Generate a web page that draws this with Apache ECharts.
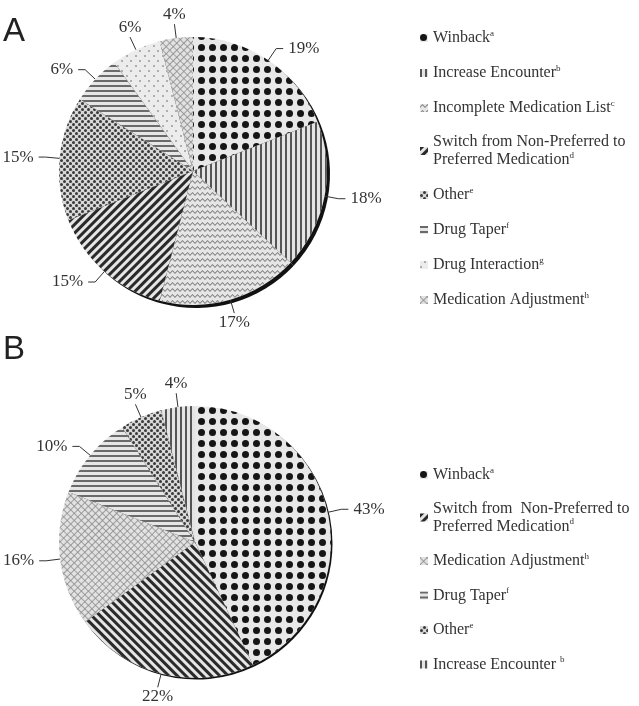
<!DOCTYPE html>
<html>
<head>
<meta charset="utf-8">
<script src="https://cdn.jsdelivr.net/npm/echarts@6/dist/echarts.min.js"></script>
<style>html,body{margin:0;padding:0;background:#fff}#c{width:639px;height:706px}</style>
</head>
<body>
<div id="c"></div>
<script>
// ---- data ----
const categoriesA = ['Winback', 'Increase Encounter', 'Incomplete Medication List',
  'Switch from Non-Preferred to Preferred Medication', 'Other', 'Drug Taper',
  'Drug Interaction', 'Medication Adjustment'];
const valuesA = [19, 18, 17, 15, 15, 6, 6, 4];

const categoriesB = ['Winback', 'Switch from Non-Preferred to Preferred Medication',
  'Medication Adjustment', 'Drug Taper', 'Other', 'Increase Encounter'];
const valuesB = [43, 22, 16, 10, 5, 4];

const footnotes = {
  'Winback': 'a', 'Increase Encounter': 'b', 'Incomplete Medication List': 'c',
  'Switch from Non-Preferred to Preferred Medication': 'd', 'Other': 'e',
  'Drug Taper': 'f', 'Drug Interaction': 'g', 'Medication Adjustment': 'h'
};
const legendTextA = {
  'Switch from Non-Preferred to Preferred Medication': ['Switch from Non-Preferred to', 'Preferred Medication']
};
const legendTextB = {
  'Switch from Non-Preferred to Preferred Medication': ['Switch from  Non-Preferred to', 'Preferred Medication'],
  'Increase Encounter': ['Increase Encounter ']
};

// ---- styles (patterns) ----
const Q = Math.PI / 4;
function patterns(dot, gap, diagRot) {
  return {
    'Winback': { bg: '#e8e8e8', decal: { color: '#151515', symbol: 'circle', symbolSize: 1,
      dashArrayX: [dot, gap], dashArrayY: [dot, gap] } },
    'Increase Encounter': { bg: '#e4e4e4', decal: { color: '#555', symbol: 'rect', symbolSize: 1,
      dashArrayX: [1.8, 2.2], dashArrayY: [4, 0] } },
    'Incomplete Medication List': { bg: '#e6e6e6', decal: { color: '#777', symbolSize: 1, symbolKeepAspect: false,
      symbol: 'path://M0,4 L5,0 L10,4 L10,6 L5,2 L0,6Z', dashArrayX: [5, 0], dashArrayY: [3.2, 1.3] } },
    'Switch from Non-Preferred to Preferred Medication': { bg: '#e6e6e6', decal: { color: '#2a2a2a', symbol: 'rect', symbolSize: 1,
      dashArrayX: [2.2, 2.4], dashArrayY: [4, 0], rotation: diagRot } },
    'Other': { bg: '#d8d8d8', decal: { color: '#3a3a3a', symbol: 'circle', symbolSize: 1,
      dashArrayX: [[2.2, 2.2], [0, 2.2, 2.2, 0]], dashArrayY: [2.2, 0] } },
    'Drug Taper': { bg: '#e6e6e6', decal: { color: '#6a6a6a', symbol: 'rect', symbolSize: 1,
      dashArrayX: [4, 0], dashArrayY: [2, 2.6] } },
    'Drug Interaction': { bg: '#ececec', decal: { color: '#9a9a9a', symbol: 'circle', symbolSize: 1,
      dashArrayX: [[1.6, 6.4], [0, 4, 1.6, 2.4]], dashArrayY: [1.6, 2.4] } },
    'Medication Adjustment': { bg: '#e2e2e2', decal: { color: '#8a8a8a', symbolSize: 1, symbolKeepAspect: false,
      symbol: 'path://M0,0H10V1.6H0Z M0,0H1.6V10H0Z', dashArrayX: [5, 0], dashArrayY: [5, 0], rotation: Q } }
  };
}
const styleA = patterns(7, 3.5, Q);
const styleB = patterns(6.5, 3.2, -Q);

function buildData(cats, vals, st) {
  return cats.map((n, i) => ({
    name: n, value: vals[i],
    itemStyle: { color: st[n].bg, decal: st[n].decal }
  }));
}
function shadowData(cats, vals) {
  return cats.map((n, i) => ({ name: n, value: vals[i] }));
}
function legendFormatter(map) {
  return function (name) {
    const lines = map[name] || [name];
    return lines.map((l, i) => '{n|' + l + '}' + (i === lines.length - 1 ? '{s|' + footnotes[name] + '}' : '')).join('\n');
  };
}
// labels of slices pointing near straight up/down sit centred over/under the leader line
function centredLabels(params) {
  const p = params.labelLinePoints;
  if (!p || p.length < 3) return {};
  const dx = p[1][0] - p[0][0], dy = p[1][1] - p[0][1];
  const len = Math.sqrt(dx * dx + dy * dy) || 1;
  if (Math.abs(dx / len) >= 0.45) return {};
  const up = dy < 0;
  return {
    x: p[1][0], y: p[1][1] + (up ? -1 : 1),
    align: 'center', verticalAlign: up ? 'bottom' : 'top',
    labelLinePoints: [p[0], p[1], p[1]]
  };
}
const serif = '"Liberation Serif", "Times New Roman", serif';
const legendRich = {
  n: { fontFamily: serif, fontSize: 16, lineHeight: 18, color: '#333' },
  s: { fontFamily: serif, fontSize: 9, lineHeight: 10, verticalAlign: 'top', color: '#333' }
};
const labelStyle = { show: true, position: 'outside', formatter: '{c}%', overflow: 'none', bleedMargin: 0,
  fontFamily: serif, fontSize: 17, color: '#333' };
const lineStyle = { color: '#333', width: 1 };
const titleFont = { fontFamily: '"Liberation Sans", Arial, sans-serif', fontSize: 33, fontWeight: 'normal', color: '#222' };

const chart = echarts.init(document.getElementById('c'), null, { renderer: 'canvas' });
chart.setOption({
  animation: false,
  backgroundColor: '#fff',
  title: [
    { text: 'A', left: 3, top: 15, padding: 0, textStyle: titleFont },
    { text: 'B', left: 3, top: 333, padding: 0, textStyle: titleFont }
  ],
  legend: [
    { orient: 'vertical', left: 415, top: 24, itemWidth: 8, itemHeight: 8, itemGap: 18, icon: 'rect',
      data: categoriesA, formatter: legendFormatter(legendTextA), selectedMode: false,
      textStyle: { rich: legendRich } },
    { orient: 'vertical', left: 415, top: 461, itemWidth: 8, itemHeight: 8, itemGap: 17.5, icon: 'rect',
      data: categoriesB, formatter: legendFormatter(legendTextB), selectedMode: false,
      textStyle: { rich: legendRich } }
  ],
  series: [
    { type: 'pie', name: 'A', center: [193, 171], radius: 134, startAngle: 90, clockwise: true, z: 3,
      avoidLabelOverlap: false, data: buildData(categoriesA, valuesA, styleA),
      label: labelStyle, labelLine: { show: true, length: 14, length2: 7, lineStyle: lineStyle },
      labelLayout: centredLabels, emphasis: { disabled: true } },
    { type: 'pie', name: 'B', center: [195, 542], radius: 136, startAngle: 90, clockwise: true, z: 3,
      avoidLabelOverlap: false, data: buildData(categoriesB, valuesB, styleB),
      label: labelStyle, labelLine: { show: true, length: 14, length2: 7, lineStyle: lineStyle },
      labelLayout: centredLabels, emphasis: { disabled: true } },
    { type: 'pie', name: 'A-edge', center: [196, 174], radius: 134, startAngle: 90, z: 1, silent: true,
      data: shadowData(categoriesA, valuesA), itemStyle: { color: '#111' }, label: { show: false }, labelLine: { show: false } },
    { type: 'pie', name: 'B-edge', center: [196.5, 543.5], radius: 136, startAngle: 90, z: 1, silent: true,
      data: shadowData(categoriesB, valuesB), itemStyle: { color: '#111' }, label: { show: false }, labelLine: { show: false } }
  ]
});
</script>
</body>
</html>
